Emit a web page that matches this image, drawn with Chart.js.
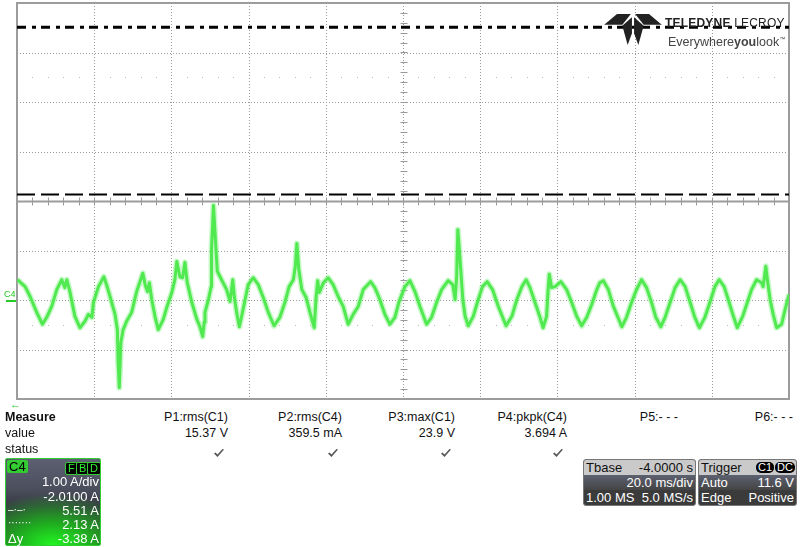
<!DOCTYPE html>
<html>
<head>
<meta charset="utf-8">
<script src="https://cdn.jsdelivr.net/npm/chart.js@4.4.1/dist/chart.umd.min.js"></script>
<style>
  body { margin: 0; background: #fff; font-family: "Liberation Sans", Arial, sans-serif; }
  #wrap { position: relative; width: 800px; height: 547px; overflow: hidden; }
  #scope { position: absolute; left: 0; top: 0; }
  .t { position: absolute; font-size: 12.5px; line-height: 14px; color: #111; white-space: nowrap; }
  .chk { position: absolute; }
  #c4box { position: absolute; left: 5px; top: 458px; width: 94px; height: 86px; border: 1px solid #3c3; border-radius: 2px;
    background: radial-gradient(ellipse 95% 60% at 50% 100%, #22f522 0%, #1fb01f 40%, rgba(40,90,40,0) 100%),
                linear-gradient(to bottom, #5c6072 0%, #4b4e5c 35%, #363842 55%, #2c3a2c 100%); }
  #c4box .w { position: absolute; right: 1px; color: #fff; font-size: 13px; line-height: 14px; white-space: nowrap; }
  .lbl { position: absolute; background: #3c3; color: #000; font-size: 13px; line-height: 13px; padding: 0 2px; border-radius: 2px; }
  .pill { position: absolute; top: 3px; background: #000; color: #3e3; font-size: 11px; line-height: 11px; padding: 0 2px; border-radius: 2px; border: 1px solid #3c3; }
  .box { position: absolute; top: 459px; height: 45px; border: 1px solid #777; border-radius: 3px; overflow: hidden; background: #3b3b3b; }
  .box .hd { position: absolute; left: 0; right: 0; top: 0; height: 15px; background: #cacaca; }
  .box .mid { position: absolute; left: 0; right: 0; top: 15px; height: 15px; background: linear-gradient(#5d6170, #444); }
  .box span { position: absolute; font-size: 13px; line-height: 15px; white-space: nowrap; }
  .bp { position: absolute; top: 2px; background: #000; color: #fff; font-size: 11px; line-height: 11px; padding: 0 2px; border-radius: 5px; }
</style>
</head>
<body>
<div id="wrap">
  <canvas id="scope" width="800" height="410"></canvas>

  <svg style="position:absolute;left:603px;top:13px" width="60" height="32" viewBox="0 0 54 30">
    <polygon points="0,11 12,1 25,1 17,11" fill="#222"/>
    <polygon points="54,11 42,1 29,1 37,11" fill="#222"/>
    <polygon points="17,12 26,4 26,19 22,30" fill="#222"/>
    <polygon points="37,12 28,4 28,19 32,30" fill="#222"/>
  </svg>
  <div class="t" style="left:665px;top:16px;font-size:12px;color:#222;letter-spacing:0.2px"><b>TELEDYNE</b> LECROY</div>
  <div class="t" style="left:668px;top:32px;font-size:12.5px;color:#444">Everywhere<b>you</b>look<sup style="font-size:6px">™</sup></div>

  <div class="t" style="left:4px;top:287px;font-size:9px;color:#2c2">C4</div>
  <div style="position:absolute;left:6px;top:300px;width:10px;height:2px;background:#2c2"></div>
  <div class="t" style="left:10px;top:397px;font-size:11px;color:#2c2">&larr;</div>

  <div id="measure"></div>

  <div id="c4box">
    <div class="lbl" style="left:1px;top:1px">C4</div>
    <div class="pill" style="left:59px">F</div>
    <div class="pill" style="left:70px">B</div>
    <div class="pill" style="left:81px">D</div>
    <div class="w" style="top:16px">1.00 A/div</div>
    <div class="w" style="top:31px">-2.0100 A</div>
    <div class="w" style="top:45px">5.51 A</div>
    <div class="w" style="left:2px;right:auto;top:44px;font-size:10px">&#8211;&middot;&#8211;&middot;</div>
    <div class="w" style="top:59px">2.13 A</div>
    <div class="w" style="left:2px;right:auto;top:57px;font-size:10px">&middot;&middot;&middot;&middot;&middot;&middot;&middot;</div>
    <div class="w" style="left:2px;right:auto;top:73px">&Delta;y</div>
    <div class="w" style="top:73px">-3.38 A</div>
  </div>

  <div class="box" style="left:583px;width:111px">
    <div class="hd"></div><div class="mid"></div>
    <span style="left:2px;top:0;color:#111">Tbase</span>
    <span style="right:2px;top:0;color:#111">-4.0000 s</span>
    <span style="right:2px;top:15px;color:#fff">20.0 ms/div</span>
    <span style="left:2px;top:30px;color:#fff">1.00 MS</span>
    <span style="right:2px;top:30px;color:#fff">5.0 MS/s</span>
  </div>
  <div class="box" style="left:698px;width:97px">
    <div class="hd"></div><div class="mid"></div>
    <span style="left:2px;top:0;color:#111">Trigger</span>
    <div class="bp" style="left:57px">C1</div>
    <div class="bp" style="left:76px">DC</div>
    <span style="left:2px;top:15px;color:#fff">Auto</span>
    <span style="right:2px;top:15px;color:#fff">11.6 V</span>
    <span style="left:2px;top:30px;color:#fff">Edge</span>
    <span style="right:2px;top:30px;color:#fff">Positive</span>
  </div>
</div>

<script>
// C4 trace: time in ms (20 ms/div), current in A (1 A/div)
var traceTimeMs = [
  0.1, 2.1, 3.4, 5.1, 6.6, 7.7, 9.0, 10.3, 11.6, 12.4, 12.9, 13.7, 15.0, 16.3, 17.6, 18.5, 19.4, 19.8, 21.1, 22.5,
  23.2, 24.1, 25.4, 26.0, 26.2, 26.5, 26.9, 27.5, 28.4, 29.7, 31.0, 32.6, 33.2, 33.8, 34.3, 34.9, 35.8, 36.6, 37.9, 38.8,
  40.1, 40.9, 41.4, 42.2, 42.9, 43.5, 44.1, 45.3, 46.6, 47.4, 48.1, 48.5,
  48.7, 49.6, 50.3, 50.4, 50.9, 51.3, 51.6, 51.9, 53.0, 54.3, 55.2, 55.9, 56.3, 56.9, 57.6, 58.2, 59.1, 59.9, 61.2, 62.5,
  63.8, 65.1, 66.6, 68.1, 69.4, 70.5, 71.6, 72.1, 72.5, 73.0, 73.8, 74.9, 75.9, 77.0, 77.5, 77.9, 78.3, 79.4, 80.6, 81.9,
  83.2, 84.5, 85.8, 87.1, 88.4, 89.7, 91.6, 92.7, 94.0, 95.3, 96.6, 97.9, 99.0,
  100.5, 101.8, 103.1, 104.4, 106.1, 107.4, 108.7, 110.0, 111.7, 112.9, 113.5, 113.9, 114.2, 114.6, 114.9, 115.5, 116.1, 116.9, 118.2, 119.5,
  120.6, 121.8, 123.2, 124.7, 126.7, 128.2, 129.5, 130.8, 131.9, 132.9, 134.2, 135.5, 136.3, 137.2, 137.6, 137.9, 138.5, 139.4, 140.9, 142.4,
  143.7, 145.0, 146.3, 147.6, 148.9, 150.2,
  151.0, 151.9, 153.2, 154.5, 156.7, 157.9, 159.2, 160.5, 161.8, 163.1, 164.4, 165.5, 166.8, 167.9, 169.2, 170.5, 171.8, 173.1, 174.4, 175.6,
  176.8, 178.2, 179.5, 180.8, 181.9, 183.2, 184.5, 185.6, 186.6, 188.0, 189.2, 190.3, 191.6, 192.9, 193.3, 194.0, 194.4, 195.1, 195.9, 196.8,
  198.1, 199.0, 200.0
];
var traceCurrentA = [
  0.41, 0.27, 0.07, -0.25, -0.49, -0.35, -0.13, 0.21, 0.41, 0.25, 0.41, 0.17, -0.33, -0.56, -0.43, -0.29, -0.35, -0.05, 0.27, 0.47,
  0.31, 0.07, -0.29, -0.60, -1.26, -1.77, -0.86, -0.60, -0.43, -0.25, 0.17, 0.54, 0.31, 0.17, 0.35, 0.01, -0.35, -0.60, -0.39, -0.15,
  0.15, 0.41, 0.78, 0.47, 0.45, 0.76, 0.35, -0.05, -0.39, -0.54, -0.74, -0.45,
  -0.25, 0.01, 0.27, 1.02, 1.91, 1.36, 0.96, 0.58, 0.41, 0.21, -0.03, 0.41, 0.07, -0.25, -0.54, -0.33, 0.01, 0.31, 0.45, 0.31,
  0.05, -0.25, -0.52, -0.35, -0.05, 0.27, 0.41, 0.68, 1.14, 0.62, 0.21, 0.05, -0.25, -0.56, 0.07, 0.39, 0.15, 0.35, 0.45, 0.31,
  0.07, -0.13, -0.49, -0.29, -0.13, 0.21, 0.37, 0.25, 0.01, -0.29, -0.49, -0.35, -0.03,
  0.27, 0.39, 0.17, -0.13, -0.49, -0.35, -0.05, 0.21, 0.39, 0.31, 0.01, 0.47, 1.42, 1.02, 0.68, 0.01, -0.33, -0.52, -0.33, 0.01,
  0.27, 0.37, 0.21, -0.13, -0.52, -0.33, 0.01, 0.27, 0.41, 0.25, -0.05, -0.35, -0.56, -0.33, 0.21, 0.52, 0.25, 0.27, 0.37, 0.21,
  -0.05, -0.33, -0.52, -0.35, -0.09, 0.21,
  0.35, 0.39, 0.21, -0.13, -0.54, -0.35, -0.05, 0.21, 0.41, 0.25, -0.05, -0.35, -0.54, -0.35, -0.05, 0.25, 0.41, 0.27, -0.05, -0.35,
  -0.56, -0.35, -0.05, 0.27, 0.41, 0.27, -0.05, -0.33, -0.56, -0.33, -0.05, 0.21, 0.41, 0.35, 0.27, 0.68, 0.41, 0.01, -0.29, -0.56,
  -0.49, -0.19, 0.11
];

// horizontal cursors (A)
var cursorDashDotA = 5.51;
var cursorDashedA = 2.13;

// graticule
var timeDivMs = [0, 20, 40, 60, 80, 100, 120, 140, 160, 180, 200];
var ampDivA = [-2, -1, 0, 1, 2, 3, 4, 5, 6];
var panelSplitA = 2;
var faintRowsA = [4.5, -0.5];

// measurement table
var measureNames = ['P1:rms(C1)', 'P2:rms(C4)', 'P3:max(C1)', 'P4:pkpk(C4)', 'P5:- - -', 'P6:- - -'];
var measureValues = ['15.37 V', '359.5 mA', '23.9 V', '3.694 A', '', ''];
var measureOk = [true, true, true, true, false, false];

(function buildMeasure() {
  var colRight = [228, 342, 455, 567, 678, 793];
  var host = document.getElementById('measure');
  var tick = '<svg width="12" height="10" viewBox="0 0 12 10"><path d="M1 5.5 L4.5 9 L11 1.5 L9.5 1 L4.5 6.5 L2.5 4.5 Z" fill="#555"/></svg>';
  var html = '<div class="t" style="left:5px;top:410px;font-weight:bold">Measure</div>' +
             '<div class="t" style="left:5px;top:426px">value</div>' +
             '<div class="t" style="left:5px;top:442px">status</div>';
  measureNames.forEach(function (name, i) {
    var r = 800 - colRight[i];
    html += '<div class="t" style="right:' + r + 'px;top:410px">' + name + '</div>';
    if (measureValues[i]) html += '<div class="t" style="right:' + r + 'px;top:426px">' + measureValues[i] + '</div>';
    if (measureOk[i]) html += '<div class="chk" style="right:' + (r + 3) + 'px;top:444px">' + tick + '</div>';
  });
  host.innerHTML = html;
})();

var scopeGrid = {
  id: 'scopeGrid',
  beforeDatasetsDraw: function (chart) {
    var ctx = chart.ctx, a = chart.chartArea, x = chart.scales.x, y = chart.scales.y;
    var px = function (v) { return Math.round(x.getPixelForValue(v)) + 0.5; };
    var py = function (v) { return Math.round(y.getPixelForValue(v)) + 0.5; };
    var seg = function (x1, y1, x2, y2) { ctx.beginPath(); ctx.moveTo(x1, y1); ctx.lineTo(x2, y2); ctx.stroke(); };
    ctx.save();

    // dotted divisions
    ctx.strokeStyle = '#9a9a9a';
    ctx.lineWidth = 1;
    ctx.setLineDash([1, 2]);
    timeDivMs.slice(1, -1).forEach(function (t) { seg(px(t), a.top, px(t), a.bottom); });
    ampDivA.slice(1, -1).forEach(function (v) {
      if (v !== panelSplitA) seg(a.left, py(v), a.right, py(v));
    });
    ctx.setLineDash([]);

    // faint dot rows
    ctx.fillStyle = '#b8b8b8';
    faintRowsA.forEach(function (v) {
      for (var t = 4; t < 200; t += 4) {
        if (t % 20 === 0) continue;
        ctx.fillRect(px(t) - 0.5, py(v) - 0.5, 1, 1);
      }
    });

    // minor ticks on the centre line and on the panel split
    ctx.strokeStyle = '#9a9a9a';
    var tc = px(100);
    for (var v = -2; v <= 6.001; v += 0.2) seg(tc - 3, py(v), tc + 4, py(v));
    var ys = py(panelSplitA);
    for (var t = 0; t <= 200; t += 4) seg(px(t), ys - 4, px(t), ys + 4);

    // solid frame and panel split
    ctx.lineWidth = 2;
    ctx.strokeStyle = '#9c9c9c';
    ctx.strokeRect(a.left, a.top, a.right - a.left, a.bottom - a.top);
    seg(a.left, ys, a.right, ys);
    ctx.restore();
  }
};

var tracePoints = traceTimeMs.map(function (t, i) { return { x: t, y: traceCurrentA[i] }; });

new Chart(document.getElementById('scope'), {
  type: 'line',
  data: {
    datasets: [
      { data: tracePoints, borderColor: 'rgba(130,240,130,0.45)', borderWidth: 6, borderJoinStyle: 'round', pointRadius: 0, tension: 0 },
      { data: tracePoints, borderColor: '#27e427', borderWidth: 3, borderJoinStyle: 'round', pointRadius: 0, tension: 0 },
      { data: [{ x: 0, y: cursorDashDotA }, { x: 200, y: cursorDashDotA }], borderColor: '#000', borderWidth: 3,
        borderDash: [9, 6, 4, 5], pointRadius: 0 },
      { data: [{ x: 0, y: cursorDashedA }, { x: 200, y: cursorDashedA }], borderColor: '#000', borderWidth: 2,
        borderDash: [18, 6], pointRadius: 0 }
    ]
  },
  options: {
    responsive: false,
    animation: false,
    layout: { padding: { left: 17, right: 11, top: 3, bottom: 11 } },
    plugins: { legend: { display: false }, tooltip: { enabled: false } },
    scales: {
      x: { type: 'linear', min: 0, max: 200, display: false },
      y: { type: 'linear', min: -2, max: 6, display: false }
    }
  },
  plugins: [scopeGrid]
});
</script>
</body>
</html>
